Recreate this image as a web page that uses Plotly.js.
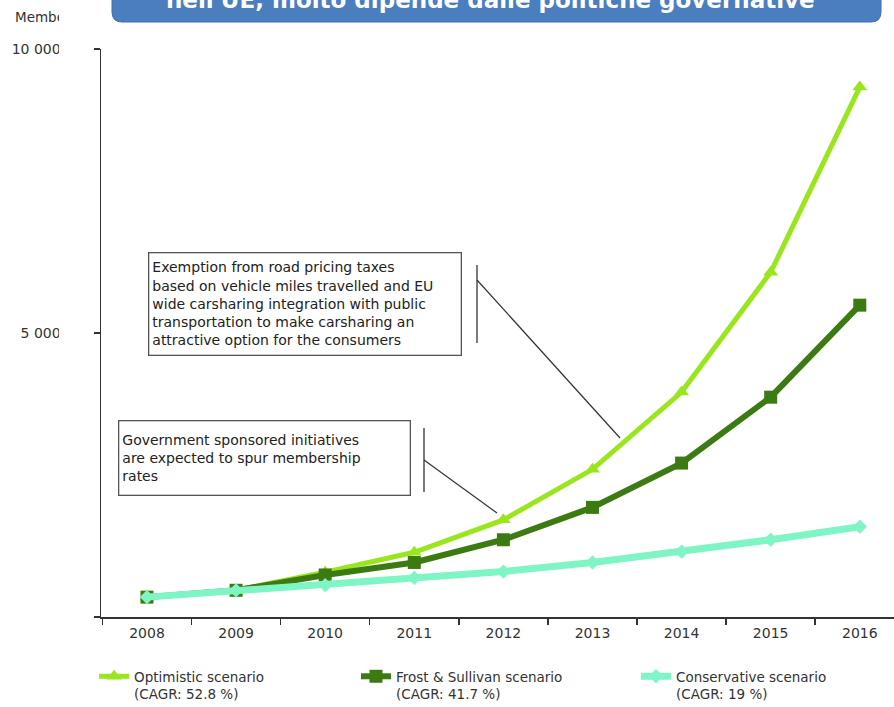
<!DOCTYPE html>
<html>
<head>
<meta charset="utf-8">
<script src="https://cdn.plot.ly/plotly-3.0.1.min.js"></script>
<style>
  html, body { margin: 0; padding: 0; background: #ffffff; }
  #chart { width: 894px; height: 707px; }
</style>
</head>
<body>
<div id="chart"></div>
<script>
// ---- data ----
const years = ['2008', '2009', '2010', '2011', '2012', '2013', '2014', '2015', '2016'];
const optimistic   = [350, 470, 790, 1140, 1710, 2600, 3960, 6070, 9330];
const frostSullivan = [350, 470, 740, 960, 1360, 1930, 2710, 3870, 5490];
const conservative = [350, 470, 560, 690, 800, 960, 1150, 1360, 1590];
const seriesNames = [
  'Optimistic scenario<br>(CAGR: 52.8 %)',
  'Frost &amp; Sullivan scenario<br>(CAGR: 41.7 %)',
  'Conservative scenario<br>(CAGR: 19 %)'
];
const yTickVals = [0, 5000, 10000];
const yTickText = ['', '5 000', '10 000'];
const yTitle = 'Members';
const bannerText = "nell'UE, molto dipende dalle politiche governative";
const note1 = 'Exemption from road pricing taxes<br>based on vehicle miles travelled and EU<br>wide carsharing integration with public<br>transportation to make carsharing an<br>attractive option for the consumers';
const note2 = 'Government sponsored initiatives<br>are expected to spur membership<br>rates';

const FONT = 'DejaVu Sans, Verdana, sans-serif';

const traces = [
  {
    x: years, y: optimistic, name: seriesNames[0], type: 'scatter', mode: 'lines+markers',
    line: {color: '#99e61c', width: 5},
    marker: {symbol: 'triangle-up', size: 13, color: '#99e61c'},
    legend: 'legend2'
  },
  {
    x: years, y: frostSullivan, name: seriesNames[1], type: 'scatter', mode: 'lines+markers',
    line: {color: '#3c7a12', width: 6},
    marker: {symbol: 'square', size: 13, color: '#3c7a12'},
    legend: 'legend3'
  },
  {
    x: years, y: conservative, name: seriesNames[2], type: 'scatter', mode: 'lines+markers',
    line: {color: '#7ff5c6', width: 7},
    marker: {symbol: 'diamond', size: 11, color: '#7ff5c6'},
    legend: 'legend4'
  }
];

function px2x(p) { return (p - 101) / 793; }
function py2y(p) { return (617 - p) / 568; }

function legendAt(px) {
  return {
    orientation: 'h', yanchor: 'top', xanchor: 'left', y: py2y(661), x: px2x(px),
    font: {family: FONT, size: 13.5, color: '#333'},
    bgcolor: 'rgba(0,0,0,0)', valign: 'top'
  };
}

// banner path (rounded bottom corners)
const bx0 = px2x(112), bx1 = px2x(881), byTop = py2y(-30), byBot = py2y(22);
const rx = 10 / 793, ry = 10 / 568;
const bannerPath = `M ${bx0},${byTop} L ${bx0},${byBot + ry} Q ${bx0},${byBot} ${bx0 + rx},${byBot} ` +
  `L ${bx1 - rx},${byBot} Q ${bx1},${byBot} ${bx1},${byBot + ry} L ${bx1},${byTop} Z`;

const layout = {
  width: 894, height: 707,
  margin: {l: 101, r: 0, t: 49, b: 90, pad: 0, autoexpand: false},
  paper_bgcolor: '#ffffff', plot_bgcolor: '#ffffff',
  font: {family: FONT, color: '#333'},
  showlegend: true,
  xaxis: {
    type: 'category', range: [-0.516, 8.384],
    showline: true, linecolor: '#333', linewidth: 1.5,
    ticks: 'outside', tickson: 'boundaries', ticklen: 6, tickcolor: '#333', tickwidth: 1.5,
    ticklabelstandoff: 3,
    showgrid: false, zeroline: false,
    tickfont: {family: FONT, size: 14, color: '#333'}
  },
  yaxis: {
    range: [0, 10000],
    showline: true, linecolor: '#333', linewidth: 1.5,
    ticks: 'outside', ticklen: 6, tickcolor: '#333', tickwidth: 1.5,
    tickvals: yTickVals, ticktext: yTickText,
    ticklabelstandoff: 30,
    showgrid: false, zeroline: false,
    tickfont: {family: FONT, size: 14, color: '#333'}
  },
  legend2: legendAt(94),
  legend3: legendAt(356),
  legend4: legendAt(636),
  shapes: [
    {type: 'path', xref: 'paper', yref: 'paper', path: bannerPath,
     fillcolor: '#4a7ebf', line: {color: '#3f70ad', width: 1}, layer: 'above'},
    // callout 1
    {type: 'line', xref: 'paper', yref: 'paper', x0: px2x(477), x1: px2x(477), y0: py2y(265), y1: py2y(343),
     line: {color: '#333', width: 1.3}},
    {type: 'line', xref: 'paper', yref: 'paper', x0: px2x(477), x1: px2x(620), y0: py2y(280), y1: py2y(438),
     line: {color: '#333', width: 1.2}},
    // callout 2
    {type: 'line', xref: 'paper', yref: 'paper', x0: px2x(424), x1: px2x(424), y0: py2y(428), y1: py2y(492),
     line: {color: '#333', width: 1.3}},
    {type: 'line', xref: 'paper', yref: 'paper', x0: px2x(424), x1: px2x(497), y0: py2y(460), y1: py2y(513),
     line: {color: '#333', width: 1.2}}
  ],
  annotations: [
    {xref: 'paper', yref: 'paper', x: 0.4916, y: py2y(0), xanchor: 'center', yanchor: 'middle',
     text: '<b>' + bannerText + '</b>', showarrow: false,
     font: {family: FONT, size: 23, color: '#ffffff'}},
    {xref: 'paper', yref: 'paper', x: px2x(13), y: py2y(17), xanchor: 'left', yanchor: 'middle',
     text: yTitle, showarrow: false, font: {family: FONT, size: 13.5, color: '#333'}},
    // white cover reproducing the cropped left labels
    {xref: 'paper', yref: 'paper', x: px2x(59), y: py2y(0), xanchor: 'left', yanchor: 'top',
     text: ' ', showarrow: false, width: 35, height: 600, bgcolor: '#ffffff', borderpad: 0, borderwidth: 0},
    {xref: 'paper', yref: 'paper', x: px2x(148), y: py2y(252), xanchor: 'left', yanchor: 'top',
     text: note1, showarrow: false, align: 'left', valign: 'middle', width: 305, height: 95, borderpad: 3,
     bordercolor: '#555', borderwidth: 1.3, bgcolor: '#ffffff',
     font: {family: FONT, size: 14, color: '#222'}},
    {xref: 'paper', yref: 'paper', x: px2x(118), y: py2y(420), xanchor: 'left', yanchor: 'top',
     text: note2, showarrow: false, align: 'left', valign: 'middle', width: 284, height: 67, borderpad: 3,
     bordercolor: '#555', borderwidth: 1.3, bgcolor: '#ffffff',
     font: {family: FONT, size: 14, color: '#222'}}
  ]
};

Plotly.newPlot('chart', traces, layout, {displayModeBar: false, staticPlot: true});
</script>
</body>
</html>
